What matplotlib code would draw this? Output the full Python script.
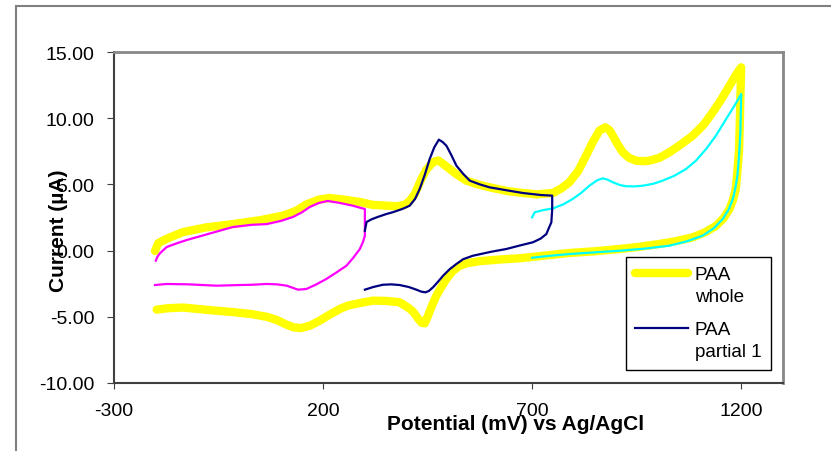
import matplotlib
matplotlib.use("Agg")
import matplotlib.pyplot as plt
from matplotlib.patches import Rectangle
from matplotlib.legend_handler import HandlerLine2D

plt.rcParams['font.family'] = ['Liberation Sans', 'DejaVu Sans']
plt.rcParams['axes.unicode_minus'] = False

# ---- cyclic voltammograms (potential in mV, current in uA) ----
whole_x = [-202, -194, -170, -135, -80, -16, 50, 104, 135, 161, 190, 216, 250, 288, 319, 350,
           375, 395, 407, 420, 435, 447, 459, 468, 476, 485, 503, 520, 543, 570, 598, 640,
           678, 710, 750, 770, 789, 810, 829, 845, 861, 875, 885, 893, 905, 917, 932, 949,
           965, 980, 1004, 1028, 1055, 1084, 1110, 1132, 1152, 1172, 1188, 1200,
           1198, 1197, 1195, 1191, 1187, 1180, 1172, 1158, 1140, 1115, 1084, 1045, 1004, 960,
           909, 850, 789, 730, 670, 620, 574, 545, 527, 510, 495, 482, 471, 460, 451, 443,
           436, 428, 415, 403, 383, 350, 319, 290, 260, 240, 215, 192, 170, 148, 130, 113,
           90, 65, 30, -16, -70, -135, -170, -198]
whole_y = [-0.03, 0.57, 0.95, 1.4, 1.75, 2.0, 2.3, 2.64, 3.0, 3.5, 3.85, 3.97, 3.85, 3.67, 3.45, 3.4,
           3.35, 3.45, 3.75, 4.3, 5.4, 6.1, 6.55, 6.75, 6.8, 6.6, 6.16, 5.75, 5.28, 5.0, 4.78, 4.5,
           4.35, 4.25, 4.35, 4.7, 5.16, 6.0, 7.17, 8.2, 9.06, 9.31, 9.1, 8.68, 8.0, 7.42, 7.0, 6.79,
           6.75, 6.79, 7.0, 7.42, 8.0, 8.68, 9.5, 10.45, 11.4, 12.45, 13.3, 13.84,
           11.5, 10.0, 7.67, 6.0, 4.65, 3.8, 3.14, 2.45, 1.88, 1.4, 1.0, 0.72, 0.5, 0.3,
           0.12, -0.05, -0.18, -0.38, -0.58, -0.68, -0.8, -0.95, -1.14, -1.55, -2.14, -2.8, -3.4, -4.2, -4.92, -5.5,
           -5.45, -5.17, -4.6, -4.3, -3.9, -3.8, -3.78, -3.95, -4.15, -4.41, -4.85, -5.29, -5.65, -5.85, -5.8, -5.6,
           -5.25, -5.0, -4.8, -4.64, -4.5, -4.3, -4.35, -4.46]

low_x = [-200, -196, -190, -174, -150, -126, -70, -16, 30, 65, 100, 128, 150, 168, 190, 211,
         240, 270, 300, 300, 300, 296, 288, 272, 256, 232, 208, 184, 160, 140, 113, 90,
         65, 30, 1, -55, -120, -174, -202]
low_y = [-0.76, -0.45, -0.2, 0.27, 0.55, 0.8, 1.3, 1.78, 1.95, 2.0, 2.25, 2.54, 2.9, 3.29, 3.6, 3.75,
         3.6, 3.4, 3.14, 2.0, 1.13, 0.7, 0.12, -0.55, -1.14, -1.65, -2.14, -2.55, -2.9, -2.95, -2.65, -2.55,
         -2.52, -2.58, -2.6, -2.65, -2.55, -2.52, -2.6]

part1_x = [300, 304, 315, 328, 350, 367, 390, 407, 420, 431, 443, 455, 466, 477, 486, 495,
           507, 519, 535, 551, 575, 598, 640, 678, 720, 748, 748, 746, 740, 734, 720, 702,
           670, 638, 600, 558, 535, 519, 503, 487, 475, 463, 453, 445, 435, 423, 405, 383,
           363, 343, 320, 300]
part1_y = [1.5, 2.16, 2.35, 2.51, 2.75, 2.9, 3.15, 3.39, 3.9, 4.65, 5.7, 6.92, 7.8, 8.38, 8.2, 7.92,
           7.2, 6.41, 5.8, 5.28, 5.0, 4.78, 4.55, 4.35, 4.2, 4.15, 3.14, 2.14, 1.7, 1.25, 0.9, 0.63,
           0.38, 0.12, -0.1, -0.39, -0.65, -1.01, -1.4, -1.9, -2.35, -2.77, -3.05, -3.15, -3.1, -2.95, -2.75, -2.6,
           -2.55, -2.58, -2.75, -2.95]

high_x = [700, 706, 725, 750, 775, 797, 817, 837, 855, 869, 881, 893, 910, 925, 945, 965,
          990, 1012, 1040, 1068, 1092, 1116, 1140, 1164, 1185, 1200, 1198, 1195, 1191, 1186, 1180, 1170,
          1156, 1135, 1108, 1070, 1028, 970, 909, 850, 789, 740, 700]
high_y = [2.51, 2.89, 3.05, 3.19, 3.5, 3.9, 4.35, 4.9, 5.3, 5.46, 5.35, 5.16, 4.95, 4.86, 4.85, 4.9,
          5.05, 5.28, 5.65, 6.16, 6.8, 7.67, 8.7, 9.94, 11.0, 11.83, 8.94, 7.2, 5.66, 4.7, 3.9, 3.1,
          2.39, 1.7, 1.13, 0.7, 0.37, 0.15, -0.01, -0.13, -0.26, -0.4, -0.54]

x_ticks = [-300, 200, 700, 1200]
y_ticks = [-10, -5, 0, 5, 10, 15]

LEG_FONT = 13.6
LEG_LINESPACING = 1.38


class FirstLineHandler(HandlerLine2D):
    # put the legend line level with the first line of a two-line label
    def create_artists(self, legend, orig_handle, xdescent, ydescent, width, height,
                       fontsize, trans):
        artists = super().create_artists(legend, orig_handle, xdescent, ydescent, width,
                                         height, fontsize, trans)
        for a in artists:
            if hasattr(a, 'get_ydata'):
                a.set_ydata([y + 0.5 * LEG_LINESPACING * fontsize for y in a.get_ydata()])
        return artists


fig = plt.figure(figsize=(8.31, 4.52), dpi=100)
ax = fig.add_axes([114 / 831, 1 - 384 / 452, (783 - 114) / 831, (384 - 53) / 452])

ax.plot(whole_x, whole_y, color='#FFFF00', lw=6, solid_capstyle='round',
        solid_joinstyle='round', label='PAA\nwhole', zorder=2)
ax.plot(low_x, low_y, color='#FF00FF', lw=1.6, zorder=3)
ax.plot(part1_x, part1_y, color='#000080', lw=1.6, label='PAA\npartial 1', zorder=4)
ax.plot(high_x, high_y, color='#00FFFF', lw=1.6, zorder=3)

ax.set_xlim(-300, 1300)
ax.set_ylim(-10, 15)
ax.set_xticks(x_ticks)
ax.set_yticks(y_ticks)
ax.set_yticklabels([f'{v:.2f}' for v in y_ticks])
ax.tick_params(axis='both', direction='out', labelsize=14, color='#404040')
ax.tick_params(axis='y', length=5, pad=9)
ax.tick_params(axis='x', length=4.5, pad=9)

for side in ('left', 'bottom'):
    ax.spines[side].set_color('#404040')
    ax.spines[side].set_linewidth(1.5)
for side in ('top', 'right'):
    ax.spines[side].set_color('#888888')
    ax.spines[side].set_linewidth(2)

leg = ax.legend(loc='upper left', bbox_to_anchor=(626 / 831, 1 - 258 / 452),
                bbox_transform=fig.transFigure, borderaxespad=0, fancybox=False,
                edgecolor='black', fontsize=LEG_FONT, handlelength=2.8, handletextpad=0.35,
                labelspacing=0.85, borderpad=0.5, framealpha=1,
                handler_map={matplotlib.lines.Line2D: FirstLineHandler()})
leg.get_frame().set_linewidth(1)
for t in leg.get_texts():
    t.set_linespacing(LEG_LINESPACING)

fig.text(516 / 831, 1 - 425 / 452, 'Potential (mV) vs Ag/AgCl', ha='center', va='center',
         fontsize=15, fontweight='bold', zorder=10)
fig.text(58 / 831, 1 - 231 / 452, 'Current (µA)', rotation=90, ha='center', va='center',
         fontsize=15, fontweight='bold', zorder=10)

# outer chart border (runs off the right and bottom edges)
fig.add_artist(Rectangle((16 / 831, -0.5), 2, 0.5 + 1 - 7 / 452, transform=fig.transFigure,
                         fill=False, edgecolor='#808080', lw=1.5, clip_on=False))

fig.savefig('out.png', dpi=100)
